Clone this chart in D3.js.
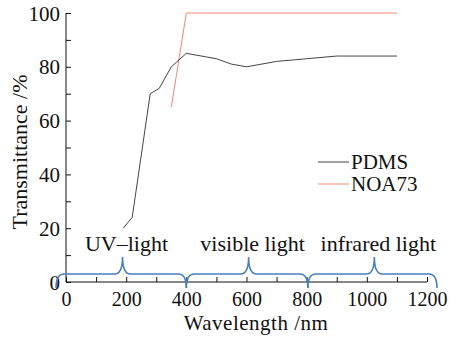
<!DOCTYPE html>
<html>
<head>
<meta charset="utf-8">
<script src="https://cdn.jsdelivr.net/npm/d3@7"></script>
<style>
  body { margin: 0; background: #fff; }
  text { font-family: "Liberation Serif", "Times New Roman", serif; fill: #111; }
</style>
</head>
<body>
<div id="chart"></div>
<script>
// PDMS transmittance (nm, %)
const pdmsWave = [190, 220, 280, 310, 350, 400, 500, 550, 600, 700, 800, 900, 1100];
const pdmsValue = [20, 24, 70, 72, 80, 85, 83, 81, 80, 82, 83, 84, 84];
// NOA73 transmittance
const noaWave = [350, 400, 1100];
const noaValue = [65, 100, 100];

const xTicks = [0, 200, 400, 600, 800, 1000, 1200];
const yTicks = [0, 20, 40, 60, 80, 100];

// spectral regions drawn as braces under the curves
const regionNames = ['UV\u2013light', 'visible light', 'infrared light'];
const regionStart = [-33, 400, 804];
const regionEnd = [400, 804, 1233];
const regionPeak = [188, 607, 1025];

const width = 449, height = 337;
const margin = { left: 66, right: 22, top: 13, bottom: 55 };

const svg = d3.select('#chart').append('svg')
  .attr('width', width)
  .attr('height', height);

const x = d3.scaleLinear().domain([0, 1200]).range([margin.left, width - margin.right]);
const y = d3.scaleLinear().domain([0, 100]).range([height - margin.bottom, margin.top]);

// axes with inward ticks
const xAxis = svg.append('g')
  .attr('transform', 'translate(0,' + y(0) + ')')
  .call(d3.axisBottom(x).tickValues(d3.range(0, 1201, 100)).tickSize(-5).tickFormat(''));
xAxis.select('.domain').attr('d', 'M' + x(0) + ',0H' + x(1200)).attr('stroke', '#111');
xAxis.selectAll('.tick line').attr('stroke', '#111');
xAxis.selectAll('.tick')
  .filter(d => xTicks.includes(d))
  .append('text')
  .attr('y', 24)
  .attr('text-anchor', 'middle')
  .style('font-size', '20px')
  .text(d => d);

const yAxis = svg.append('g')
  .attr('transform', 'translate(' + x(0) + ',0)')
  .call(d3.axisLeft(y).tickValues(d3.range(0, 101, 10)).tickSize(-5).tickFormat(''));
yAxis.select('.domain').attr('d', 'M0,' + y(0) + 'V' + y(100)).attr('stroke', '#111');
yAxis.selectAll('.tick line').attr('stroke', '#111');
yAxis.selectAll('.tick')
  .filter(d => yTicks.includes(d))
  .append('text')
  .attr('x', -6)
  .attr('dy', '0.34em')
  .attr('text-anchor', 'end')
  .style('font-size', '21px')
  .text(d => d);

// axis titles
svg.append('text')
  .attr('x', 256)
  .attr('y', 330)
  .attr('text-anchor', 'middle')
  .style('font-size', '21px')
  .style('letter-spacing', '0.5px')
  .text('Wavelength /nm');

svg.append('text')
  .attr('transform', 'translate(27,152) rotate(-90)')
  .attr('text-anchor', 'middle')
  .style('font-size', '22px')
  .text('Transmittance /%');

// curves
const line = d3.line().x(d => x(d[0])).y(d => y(d[1]));

svg.append('path')
  .datum(d3.zip(noaWave, noaValue))
  .attr('fill', 'none')
  .attr('stroke', '#f08878')
  .attr('stroke-width', 1)
  .attr('d', line);

svg.append('path')
  .datum(d3.zip(pdmsWave, pdmsValue))
  .attr('fill', 'none')
  .attr('stroke', '#444')
  .attr('stroke-width', 1)
  .attr('d', line);

// legend
const legend = svg.append('g');
const legendItems = [['PDMS', '#444'], ['NOA73', '#f08878']];
legendItems.forEach((item, i) => {
  const ly = 162 + i * 22;
  legend.append('line')
    .attr('x1', 318).attr('x2', 349)
    .attr('y1', ly).attr('y2', ly)
    .attr('stroke', item[1]);
  legend.append('text')
    .attr('x', 351)
    .attr('y', ly + 7)
    .style('font-size', '21px')
    .text(item[0]);
});

// braces
const yBottom = y(0) + 6, yFlat = y(0) - 8, yTip = y(0) - 25;
const r = 8;
function brace(a, b, m) {
  const p = d3.path();
  p.moveTo(a, yBottom);
  p.quadraticCurveTo(a, yFlat, a + r, yFlat);
  p.lineTo(m - r, yFlat);
  p.quadraticCurveTo(m, yFlat, m, yTip);
  p.quadraticCurveTo(m, yFlat, m + r, yFlat);
  p.lineTo(b - r, yFlat);
  p.quadraticCurveTo(b, yFlat, b, yBottom);
  return p.toString();
}

const regions = svg.append('g');
regionNames.forEach((name, i) => {
  regions.append('path')
    .attr('d', brace(x(regionStart[i]), x(regionEnd[i]), x(regionPeak[i])))
    .attr('fill', 'none')
    .attr('stroke', '#4a7ebb')
    .attr('stroke-width', 1.6);
  regions.append('text')
    .attr('x', x(regionPeak[i]) + 4)
    .attr('y', 251)
    .attr('text-anchor', 'middle')
    .style('font-size', '22px')
    .text(name);
});
</script>
</body>
</html>
